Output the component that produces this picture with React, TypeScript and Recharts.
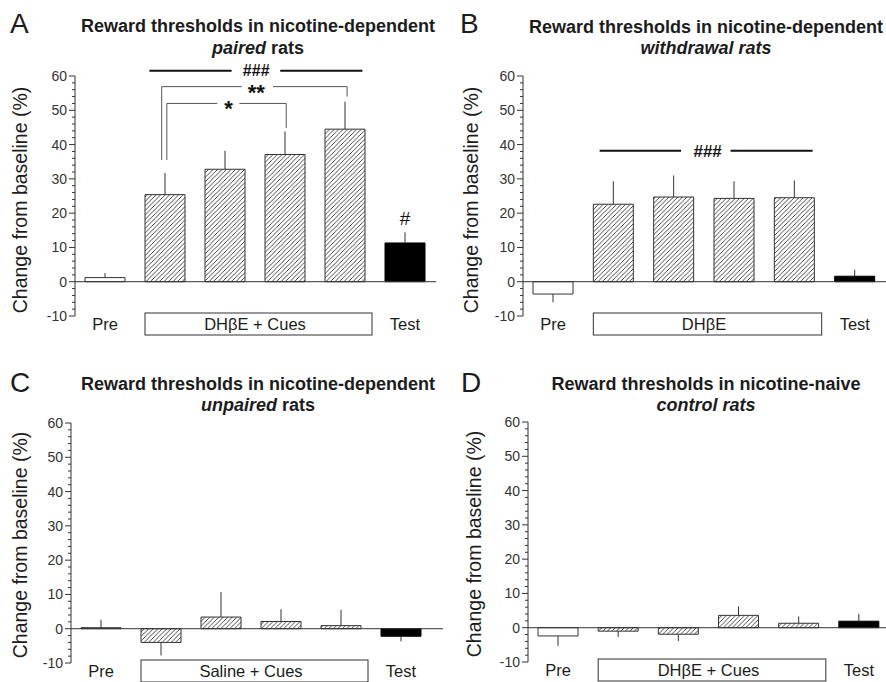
import React from "react";
import {
  BarChart,
  Bar,
  XAxis,
  YAxis,
  Cell,
  ErrorBar,
  ReferenceLine,
  ReferenceDot,
} from "recharts";

// sessions on the x axis; only Pre and Test get their own label
const sessions = ["Pre", "S1", "S2", "S3", "S4", "Test"];
const barKinds = ["open", "hatch", "hatch", "hatch", "hatch", "solid"];
const yTicks = [
  -10, -8, -6, -4, -2, 0, 2, 4, 6, 8, 10, 12, 14, 16, 18, 20, 22, 24, 26, 28,
  30, 32, 34, 36, 38, 40, 42, 44, 46, 48, 50, 52, 54, 56, 58, 60,
];

// A: paired
const pairedMean = [1.2, 25.4, 32.8, 37.1, 44.5, 11.3];
const pairedSem = [1.3, 6.3, 5.4, 6.7, 8.0, 3.1];
// B: withdrawal
const withdrawalMean = [-3.6, 22.6, 24.7, 24.3, 24.5, 1.6];
const withdrawalSem = [2.4, 6.7, 6.3, 5.0, 5.0, 1.9];
// C: unpaired
const unpairedMean = [0.3, -4.0, 3.4, 2.1, 0.9, -2.2];
const unpairedSem = [2.3, 3.8, 7.3, 3.6, 4.6, 1.5];
// D: control
const controlMean = [-2.4, -1.0, -1.9, 3.6, 1.3, 1.9];
const controlSem = [2.9, 1.7, 2.0, 2.6, 2.0, 2.2];

// significance lines, in data units (x = session index, y = % change)
type Seg = { x1: number; x2: number; y1: number; y2: number; heavy?: boolean };
type Mark = { x: number; y: number; text: string; size: number; bold?: boolean; dy: number };

const pairedLines: Seg[] = [
  { x1: 0.74, x2: 2.11, y1: 61.5, y2: 61.5, heavy: true },
  { x1: 2.92, x2: 4.29, y1: 61.5, y2: 61.5, heavy: true },
  { x1: 0.945, x2: 0.945, y1: 35.5, y2: 56.9 },
  { x1: 0.945, x2: 2.28, y1: 56.9, y2: 56.9 },
  { x1: 2.8, x2: 4.035, y1: 56.9, y2: 56.9 },
  { x1: 4.035, x2: 4.035, y1: 56.9, y2: 54.0 },
  { x1: 1.03, x2: 1.03, y1: 35.5, y2: 52.0 },
  { x1: 1.03, x2: 1.87, y1: 52.0, y2: 52.0 },
  { x1: 2.24, x2: 3.02, y1: 52.0, y2: 52.0 },
  { x1: 3.02, x2: 3.02, y1: 52.0, y2: 44.8 },
];
const pairedMarks: Mark[] = [
  { x: 2.52, y: 61.5, text: "###", size: 16, bold: true, dy: 5.5 },
  { x: 2.52, y: 56.9, text: "**", size: 22, bold: true, dy: 13 },
  { x: 2.06, y: 52.0, text: "*", size: 22, bold: true, dy: 13 },
  { x: 5, y: 18.7, text: "#", size: 19, dy: 7 },
];
const withdrawalLines: Seg[] = [
  { x1: 0.77, x2: 2.12, y1: 38.2, y2: 38.2, heavy: true },
  { x1: 2.94, x2: 4.3, y1: 38.2, y2: 38.2, heavy: true },
];
const withdrawalMarks: Mark[] = [
  { x: 2.56, y: 38.2, text: "###", size: 17, bold: true, dy: 6 },
];

const FONT = "'Liberation Sans', Arial, Helvetica, sans-serif";
const INK = "#1c1c1c";

type Frame = {
  left: number;
  top: number;
  width: number;
  height: number;
  yWidth: number;
  margin: { top: number; right: number; bottom: number; left: number };
};

const ValueTick = (p: any) => {
  const v = p.payload.value;
  const major = v % 10 === 0;
  return (
    <g>
      <line x1={p.x - (major ? 6 : 3)} x2={p.x} y1={p.y} y2={p.y} stroke="#333" strokeWidth={1} />
      {major && (
        <text x={p.x - 8} y={p.y + 5} textAnchor="end" fontSize={14} fill="#333" fontFamily={FONT}>
          {v}
        </text>
      )}
    </g>
  );
};

const renderSessionTick = (p: any, band: number, group: string) => {
  const v = p.payload.value;
  if (v === "Pre" || v === "Test") {
    return (
      <text x={p.x} y={p.y + 14} textAnchor="middle" fontSize={16.5} fill={INK} fontFamily={FONT}>
        {v}
      </text>
    );
  }
  if (p.index === 1) {
    const x0 = p.x - band / 2 + 10;
    const x1 = p.x + band * 3.5 - 3;
    return (
      <g>
        <rect x={x0} y={p.y - 3} width={x1 - x0} height={22} fill="#fff" stroke="#333" strokeWidth={1} />
        <text x={p.x + band * 1.5} y={p.y + 14} textAnchor="middle" fontSize={16.5} fill={INK} fontFamily={FONT}>
          {group}
        </text>
      </g>
    );
  }
  return <g />;
};

const Panel = ({
  id,
  frame,
  means,
  sems,
  group,
  lines,
  marks,
  baselineEnd,
}: {
  id: string;
  frame: Frame;
  means: number[];
  sems: number[];
  group: string;
  lines: Seg[];
  marks: Mark[];
  baselineEnd: number;
}) => {
  const rows = sessions.map((s, i) => ({
    session: s,
    pos: i,
    mean: means[i],
    err: means[i] < 0 ? [sems[i], 0] : [0, sems[i]],
  }));
  const band =
    (frame.width - frame.margin.left - frame.margin.right - frame.yWidth) / sessions.length;
  const fillFor = (k: string) =>
    k === "open" ? "#fff" : k === "solid" ? "#000" : `url(#hatch-${id})`;

  return (
    <div style={{ position: "absolute", left: frame.left, top: frame.top }}>
      <BarChart width={frame.width} height={frame.height} data={rows} margin={frame.margin}>
        <defs>
          <pattern id={`hatch-${id}`} patternUnits="userSpaceOnUse" width={4.5} height={4.5}>
            <rect width={4.5} height={4.5} fill="#fff" />
            <path
              d="M-1,1 L1,-1 M0,4.5 L4.5,0 M3.5,5.5 L5.5,3.5"
              stroke="#333"
              strokeWidth={0.9}
            />
          </pattern>
        </defs>
        <XAxis
          dataKey="session"
          axisLine={false}
          tickLine={false}
          tickSize={0}
          tickMargin={0}
          height={1}
          interval={0}
          tick={(p: any) => renderSessionTick(p, band, group)}
        />
        {/* hidden numeric twin of the session axis, used to place the brackets */}
        <XAxis
          xAxisId="n"
          dataKey="pos"
          type="number"
          domain={[0, 5]}
          allowDataOverflow
          padding={{ left: band / 2, right: band / 2 }}
          hide
        />
        <YAxis
          type="number"
          domain={[-10, 60]}
          allowDataOverflow
          ticks={yTicks}
          interval={0}
          width={frame.yWidth}
          tickSize={0}
          tickMargin={0}
          tickLine={false}
          axisLine={{ stroke: "#333", strokeWidth: 1 }}
          tick={<ValueTick />}
        />
        <Bar dataKey="mean" barSize={40} isAnimationActive={false}>
          {rows.map((r, i) => (
            <Cell
              key={`c-${i}`}
              fill={fillFor(barKinds[i])}
              stroke={barKinds[i] === "solid" ? "#000" : "#333"}
              strokeWidth={1}
            />
          ))}
          <ErrorBar dataKey="err" width={0} stroke="#333" strokeWidth={1} direction="y" />
        </Bar>
        <ReferenceLine
          xAxisId="n"
          segment={[
            { x: -0.5, y: 0 },
            { x: baselineEnd, y: 0 },
          ]}
          stroke="#333"
          strokeWidth={1}
          ifOverflow="visible"
        />
        {lines.map((s, i) => (
          <ReferenceLine
            key={`l-${i}`}
            xAxisId="n"
            segment={[
              { x: s.x1, y: s.y1 },
              { x: s.x2, y: s.y2 },
            ]}
            stroke={s.heavy ? "#111" : "#555"}
            strokeWidth={s.heavy ? 2 : 1}
            ifOverflow="visible"
          />
        ))}
        {marks.map((m, i) => (
          <ReferenceDot
            key={`m-${i}`}
            xAxisId="n"
            x={m.x}
            y={m.y}
            r={1}
            ifOverflow="visible"
            shape={(p: any) => (
              <text
                x={p.cx}
                y={p.cy + m.dy}
                textAnchor="middle"
                fontSize={m.size}
                fontWeight={m.bold ? "bold" : "normal"}
                fill="#111"
                fontFamily={FONT}
              >
                {m.text}
              </text>
            )}
          />
        ))}
      </BarChart>
    </div>
  );
};

const frames: Record<string, Frame> = {
  A: { left: 0, top: 0, width: 443, height: 341, yWidth: 75, margin: { top: 76, right: 8, bottom: 24, left: 0 } },
  B: { left: 443, top: 0, width: 443, height: 341, yWidth: 80, margin: { top: 76, right: 1, bottom: 24, left: 0 } },
  C: { left: 0, top: 341, width: 443, height: 341, yWidth: 71, margin: { top: 82, right: 12, bottom: 18, left: 0 } },
  D: { left: 443, top: 341, width: 446, height: 341, yWidth: 85, margin: { top: 81, right: 0, bottom: 19, left: 0 } },
};

const YLabel = ({ x, y }: { x: number; y: number }) => (
  <text
    transform={`translate(${x},${y}) rotate(-90)`}
    textAnchor="middle"
    fontSize={19.5}
    fill={INK}
    fontFamily={FONT}
  >
    Change from baseline (%)
  </text>
);

const Heading = ({
  letter,
  lx,
  ly,
  cx,
  y1,
  y2,
  line1,
  children,
}: {
  letter: string;
  lx: number;
  ly: number;
  cx: number;
  y1: number;
  y2: number;
  line1: string;
  children: React.ReactNode;
}) => (
  <g fontFamily={FONT} fill={INK}>
    <text x={lx} y={ly} fontSize={28}>
      {letter}
    </text>
    <text x={cx} y={y1} textAnchor="middle" fontSize={18} fontWeight="bold">
      {line1}
    </text>
    <text x={cx} y={y2} textAnchor="middle" fontSize={18} fontWeight="bold">
      {children}
    </text>
  </g>
);

export default function App() {
  return (
    <div
      style={{
        position: "absolute",
        left: 0,
        top: 0,
        width: 886,
        height: 682,
        overflow: "hidden",
        background: "#fff",
      }}
    >
      <Panel id="A" frame={frames.A} means={pairedMean} sems={pairedSem} group="DHβE + Cues" lines={pairedLines} marks={pairedMarks} baselineEnd={5.52} />
      <Panel id="B" frame={frames.B} means={withdrawalMean} sems={withdrawalSem} group="DHβE" lines={withdrawalLines} marks={withdrawalMarks} baselineEnd={5.55} />
      <Panel id="C" frame={frames.C} means={unpairedMean} sems={unpairedSem} group="Saline + Cues" lines={[]} marks={[]} baselineEnd={5.7} />
      <Panel id="D" frame={frames.D} means={controlMean} sems={controlSem} group="DHβE + Cues" lines={[]} marks={[]} baselineEnd={5.5} />

      <svg
        width={886}
        height={682}
        style={{ position: "absolute", left: 0, top: 0, pointerEvents: "none" }}
      >
        <Heading letter="A" lx={10} ly={33} cx={258} y1={32} y2={54} line1="Reward thresholds in nicotine-dependent">
          <tspan fontStyle="italic">paired</tspan> rats
        </Heading>
        <Heading letter="B" lx={460} ly={33} cx={706} y1={33} y2={54} line1="Reward thresholds in nicotine-dependent">
          <tspan fontStyle="italic">withdrawal rats</tspan>
        </Heading>
        <Heading letter="C" lx={10} ly={392} cx={258} y1={390} y2={411} line1="Reward thresholds in nicotine-dependent">
          <tspan fontStyle="italic">unpaired</tspan> rats
        </Heading>
        <Heading letter="D" lx={461} ly={392} cx={706} y1={390} y2={411} line1="Reward thresholds in nicotine-naive">
          <tspan fontStyle="italic">control rats</tspan>
        </Heading>
        <YLabel x={26.5} y={200} />
        <YLabel x={477.5} y={200} />
        <YLabel x={26.5} y={545} />
        <YLabel x={480.5} y={544} />
      </svg>
    </div>
  );
}
